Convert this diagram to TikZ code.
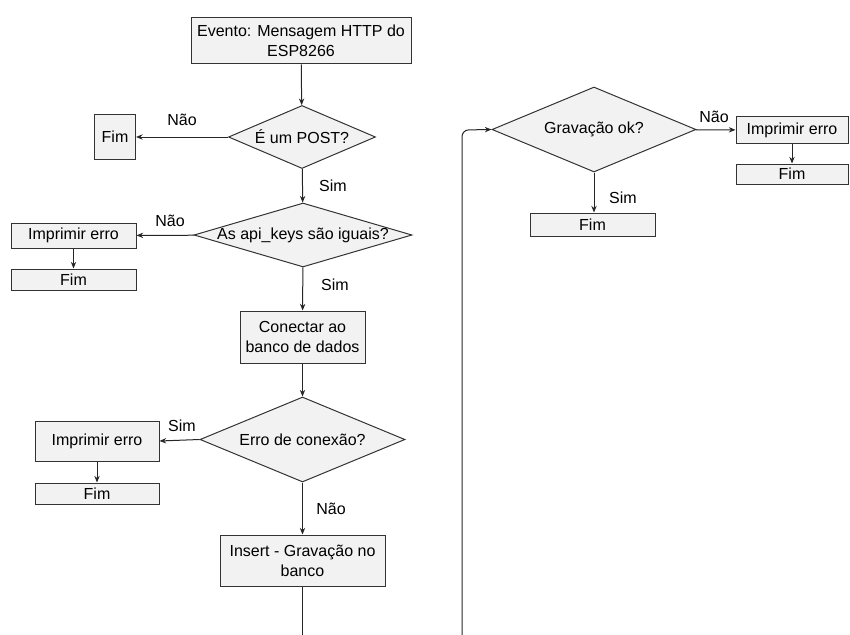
\documentclass[tikz,border=0pt]{standalone}
\usepackage{fontspec}
\setmainfont{Liberation Sans}
\usetikzlibrary{shapes.geometric,arrows.meta}
\begin{document}
\begin{tikzpicture}[x=0.75pt,y=-0.75pt,
  every node/.style={font=\fontsize{12}{15}\selectfont},
  sz/.style 2 args={minimum width=0.75*#1pt,minimum height=0.75*#2pt},
  box/.style={draw=black!80,fill=black!5,line width=0.75pt,inner sep=0pt,align=center},
  dec/.style={draw=black!80,fill=black!5,line width=0.75pt,shape=diamond,inner sep=0pt},
  lbl/.style={inner sep=0pt},
  flow/.style={line width=0.75pt,draw=black!85,-{Stealth[length=5pt,width=4pt]}},
  plain/.style={line width=0.75pt,draw=black!85}]
\useasboundingbox (0,0) rectangle (850,635);

% left column
\node[box,sz={220}{46}] (ev) at (301,41) {Evento: Mensagem HTTP do\\ESP8266};
\node[dec,sz={147}{63}] (post) at (302,137) {\makebox[0pt]{É um POST?}};
\node[box,sz={41}{45}] (fim1) at (115,137) {Fim};
\node[dec,sz={218}{64}] (keys) at (303,235) {\makebox[0pt]{As api\_keys são iguais?}};
\node[box,sz={125}{25}] (err1) at (73.5,235.5) {Imprimir erro};
\node[box,sz={125}{21}] (fim2) at (73.5,279.5) {Fim};
\node[box,sz={125}{52}] (con) at (302.5,337) {Conectar ao\\banco de dados};
\node[dec,sz={205}{85}] (cerr) at (302.5,439.5) {\makebox[0pt]{Erro de conexão?}};
\node[box,sz={124}{40}] (err2) at (97,441) {Imprimir erro};
\node[box,sz={124}{21}] (fim3) at (97,493.5) {Fim};
\node[box,sz={165}{51}] (ins) at (302.5,560.5) {Insert - Gravação no\\banco};
\coordinate (down) at (302.5,635);

% right column
\coordinate (up) at (462,635);
\node[dec,sz={204}{85}] (ok) at (594,129.5) {\makebox[0pt]{Gravação ok?}};
\node[box,sz={112}{26}] (err3) at (792,130) {Imprimir erro};
\node[box,sz={112}{20}] (fim4) at (792,174) {Fim};
\node[box,sz={125}{23}] (fim5) at (592.5,224.5) {Fim};

% connectors
\draw[flow] (ev) -- (post);
\draw[flow] (post) -- (fim1);
\draw[flow] (post) -- (keys);
\draw[flow] (keys) -- (err1);
\draw[flow] (err1) -- (fim2);
\draw[flow] (keys) -- (con);
\draw[flow] (con) -- (cerr);
\draw[flow] (cerr.west) -- (err2.east);
\draw[flow] (err2) -- (fim3);
\draw[flow] (cerr) -- (ins);
\draw[plain] (ins) -- (down);
\draw[flow,rounded corners=5pt] (up) -- (462,130) -- (ok.west);
\draw[flow] (ok) -- (err3);
\draw[flow] (err3) -- (fim4);
\draw[flow] (ok.south) -- (ok.south |- fim5.north);

% branch labels
\node[lbl] (l1) at (182,120) {Não};
\node[lbl] (l2) at (333,186) {Sim};
\node[lbl] (l3) at (170,221) {Não};
\node[lbl] (l4) at (335,285) {Sim};
\node[lbl] (l5) at (182,426) {Sim};
\node[lbl] (l6) at (331,509) {Não};
\node[lbl] (l7) at (714,117) {Não};
\node[lbl] (l8) at (623,198) {Sim};
\end{tikzpicture}
\end{document}
